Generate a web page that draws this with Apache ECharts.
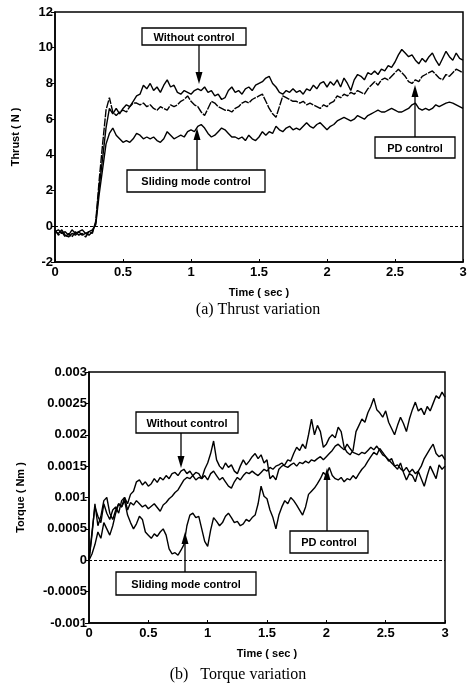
<!DOCTYPE html>
<html>
<head>
<meta charset="utf-8">
<script src="https://cdn.jsdelivr.net/npm/echarts@6/dist/echarts.min.js"></script>
<style>
  html, body { margin: 0; padding: 0; background: #fff; }
  #chart { width: 472px; height: 686px; }
</style>
</head>
<body>
<div id="chart"></div>
<script>
  // sample times (s), 0 .. 3 every 0.025
  const times = [];
  for (let i = 0; i <= 120; i++) times.push(+(i * 0.025).toFixed(3));

  const xTicks = [0, 0.5, 1, 1.5, 2, 2.5, 3];
  const thrustTicks = [-2, 0, 2, 4, 6, 8, 10, 12];
  const torqueTicks = [-0.001, -0.0005, 0, 0.0005, 0.001, 0.0015, 0.002, 0.0025, 0.003];

  // thrust (N)
  const woThrust = [
    -0.3, -0.4, -0.2, -0.5, -0.6, -0.4, -0.5, -0.3, -0.5, -0.4, -0.5, -0.3,
    0.2, 2.2, 3.8, 5.5, 6.6, 6.3, 6.6, 6.3, 6.6, 6.8, 6.7, 7.0,
    7.3, 7.4, 7.9, 7.7, 8.0, 7.6, 7.8, 7.5, 7.9, 8.2, 7.8, 7.9,
    7.5, 7.4, 7.6, 7.5, 7.4, 7.6, 7.7, 7.6, 7.8, 7.5, 7.6, 7.3,
    7.4, 7.1, 7.2, 7.6, 7.8, 7.5, 7.6, 7.4, 7.7, 7.8, 7.6, 7.9,
    8.0, 8.1, 8.3, 8.4, 8.0, 7.8, 7.5, 7.4, 7.6, 7.5, 7.7, 7.5,
    7.6, 7.4, 7.7, 7.6, 7.9, 7.7, 8.0, 8.1, 7.8, 8.1, 7.9, 8.2,
    7.8, 8.3, 8.0, 7.6, 8.2, 8.5, 8.4, 8.2, 8.6, 8.5, 8.7, 8.5,
    8.8, 8.7, 9.0, 8.9, 9.2, 9.6, 9.9, 9.7, 9.5, 9.6, 9.3, 9.1,
    9.4, 9.2, 9.5, 9.7, 9.3, 9.0, 9.4, 9.8, 9.5, 9.3, 9.7, 9.4,
    9.3
  ];
  const pdThrust = [
    -0.2, -0.5, -0.3, -0.6, -0.4, -0.6, -0.3, -0.5, -0.4, -0.6, -0.3, -0.4,
    0.3, 2.6, 4.6, 6.5, 7.2, 6.4, 6.2, 6.4, 6.5, 6.4, 6.7, 6.9,
    6.9, 6.8, 6.9, 6.7, 6.8, 6.6, 6.5, 6.7, 6.6, 6.5, 6.8, 6.7,
    6.8, 7.0, 7.1, 7.3, 7.0, 6.8, 6.7, 6.4, 6.2, 6.6, 7.0, 6.9,
    6.7, 6.6, 6.5, 6.5, 6.4, 6.6, 6.7, 6.9, 7.0, 6.9, 7.1, 7.2,
    7.3, 7.4, 7.0, 6.6, 6.3, 6.1, 6.7, 7.3, 7.2, 7.1, 7.0, 7.0,
    6.9, 7.0, 6.8, 6.9, 6.8, 6.7, 6.6, 6.8, 6.7, 6.9, 7.0, 7.3,
    7.2, 7.4, 7.3, 7.5, 7.4, 7.6, 7.5, 7.4, 7.7, 7.9, 8.1, 7.9,
    8.2, 8.3, 8.2, 8.4, 8.6, 8.8, 8.6, 8.4, 8.1, 8.0, 8.2, 8.1,
    8.4, 8.5, 8.6, 8.7, 8.5, 8.3, 8.2, 8.5, 8.4, 8.6, 8.8, 8.7,
    8.6
  ];
  const smThrust = [
    -0.3, -0.2, -0.4, -0.3, -0.5, -0.2, -0.4, -0.3, -0.2, -0.4, -0.3, -0.2,
    0.1, 1.8, 3.2, 4.6, 5.2, 5.5, 5.1, 4.9, 4.7, 4.8, 4.7, 4.9,
    5.2, 5.1, 4.9, 5.0, 4.9, 5.0, 4.8, 4.7, 4.9, 5.3, 5.1, 4.9,
    5.0, 5.1, 5.0, 5.3, 5.4, 5.3, 5.6, 5.7, 5.5, 5.2, 5.0, 5.1,
    5.3, 5.5, 5.4, 5.2, 5.0, 5.0, 4.9, 5.0, 4.8, 5.1, 4.9, 4.8,
    5.0, 5.3, 5.1, 5.3, 5.2, 5.6, 5.4, 5.3, 5.5, 5.6, 5.4, 5.5,
    5.4, 5.6, 5.8, 5.6, 5.5, 5.7, 5.8, 5.6, 5.4, 5.6, 5.7, 5.9,
    6.0, 6.1, 6.0, 5.9, 6.0, 6.2, 6.1, 6.0, 6.2, 6.3, 6.4, 6.5,
    6.4, 6.4, 6.5, 6.6, 6.5, 6.4, 6.4, 6.5, 6.6, 6.8, 6.9, 6.6,
    6.5, 6.6, 6.5, 6.6, 6.8, 6.7, 6.8, 6.9, 6.95, 6.9, 6.8, 6.7,
    6.6
  ];

  // torque (Nm)
  const woTorque = [
    0, 0.00045, 0.00085, 0.00070, 0.00060, 0.00090, 0.00075, 0.00065, 0.00080, 0.00085, 0.00075, 0.00095,
    0.00100, 0.00090, 0.00105, 0.00110, 0.00125, 0.00128, 0.00120, 0.00125, 0.00118, 0.00122, 0.00130, 0.00124,
    0.00132, 0.00128, 0.00135, 0.00130, 0.00138, 0.00140, 0.00135, 0.00142, 0.00145, 0.00138, 0.00142, 0.00135,
    0.00140, 0.00138, 0.00130, 0.00145, 0.00155, 0.00170, 0.00190, 0.00160, 0.00150, 0.00145, 0.00155, 0.00148,
    0.00152, 0.00142, 0.00138, 0.00150, 0.00160, 0.00152, 0.00158, 0.00165, 0.00170, 0.00162, 0.00168, 0.00155,
    0.00160, 0.00130, 0.00135, 0.00128, 0.00145, 0.00150, 0.00152, 0.00160, 0.00158, 0.00170, 0.00180, 0.00175,
    0.00185, 0.00178, 0.00200, 0.00225, 0.00200, 0.00215, 0.00205, 0.00180, 0.00185, 0.00195, 0.00200, 0.00195,
    0.00212, 0.00205, 0.00180, 0.00172, 0.00168, 0.00175, 0.00205, 0.00215, 0.00225, 0.00220, 0.00235, 0.00245,
    0.00258, 0.00240, 0.00235, 0.00228, 0.00238, 0.00220, 0.00210, 0.00200, 0.00215, 0.00228, 0.00218, 0.00205,
    0.00225, 0.00240, 0.00252, 0.00238, 0.00242, 0.00232, 0.00245, 0.00238, 0.00250, 0.00262, 0.00258, 0.00268,
    0.00260
  ];
  const pdTorque = [
    0, 0.00010, 0.00025, 0.00045, 0.00035, 0.00060, 0.00050, 0.00040, 0.00055, 0.00075, 0.00090, 0.00085,
    0.00100, 0.00080, 0.00092, 0.00088, 0.00095, 0.00090, 0.00085, 0.00088, 0.00082, 0.00086, 0.00090, 0.00084,
    0.00078, 0.00088, 0.00092, 0.00098, 0.00102, 0.00108, 0.00112, 0.00120, 0.00128, 0.00132, 0.00130, 0.00135,
    0.00128, 0.00132, 0.00130, 0.00135, 0.00128, 0.00138, 0.00142, 0.00135, 0.00128, 0.00132, 0.00125, 0.00118,
    0.00115, 0.00125, 0.00132, 0.00128, 0.00135, 0.00140, 0.00138, 0.00142, 0.00138, 0.00135, 0.00140, 0.00145,
    0.00142, 0.00148, 0.00145, 0.00150, 0.00152, 0.00155, 0.00150, 0.00148, 0.00152, 0.00155, 0.00150, 0.00156,
    0.00154, 0.00158, 0.00155, 0.00160, 0.00158, 0.00162, 0.00165, 0.00160, 0.00165, 0.00170, 0.00175, 0.00182,
    0.00185, 0.00180, 0.00176, 0.00185, 0.00178, 0.00172, 0.00170, 0.00168, 0.00172, 0.00170, 0.00175, 0.00180,
    0.00176, 0.00182, 0.00175, 0.00168, 0.00165, 0.00160, 0.00155, 0.00150, 0.00152, 0.00146, 0.00142, 0.00148,
    0.00140, 0.00145, 0.00138, 0.00142, 0.00150, 0.00162, 0.00170, 0.00178, 0.00185, 0.00170, 0.00165, 0.00168,
    0.00160
  ];
  const smTorque = [
    0, 0.00040, 0.00090, 0.00055, 0.00070, 0.00095, 0.00100, 0.00075, 0.00065, 0.00080, 0.00090, 0.00085,
    0.00095, 0.00072, 0.00060, 0.00050, 0.00058, 0.00070, 0.00065, 0.00045, 0.00040, 0.00035, 0.00042, 0.00038,
    0.00045, 0.00050, 0.00040, 0.00018, 0.00010, 0.00012, 0.00008, 0.00016, 0.00025, 0.00055, 0.00072, 0.00075,
    0.00068, 0.00070, 0.00050, 0.00030, 0.00022, 0.00048, 0.00068, 0.00062, 0.00055, 0.00060, 0.00070, 0.00075,
    0.00068, 0.00060, 0.00062, 0.00055, 0.00058, 0.00065, 0.00062, 0.00068, 0.00072, 0.00090, 0.00118, 0.00102,
    0.00098, 0.00080, 0.00068, 0.00050, 0.00072, 0.00085, 0.00095, 0.00090, 0.00100, 0.00095, 0.00088, 0.00080,
    0.00072, 0.00085, 0.00105, 0.00110, 0.00115, 0.00122, 0.00130, 0.00140, 0.00135, 0.00148, 0.00135, 0.00130,
    0.00128, 0.00132, 0.00125, 0.00130, 0.00128, 0.00135, 0.00130, 0.00138, 0.00145, 0.00150, 0.00158, 0.00165,
    0.00172, 0.00168, 0.00178, 0.00172, 0.00165, 0.00158, 0.00162, 0.00150, 0.00145, 0.00155, 0.00140, 0.00128,
    0.00138, 0.00135, 0.00125, 0.00142, 0.00130, 0.00118, 0.00135, 0.00150, 0.00140, 0.00130, 0.00152, 0.00145,
    0.00150
  ];

  const pairs = vals => times.map((t, i) => [t, vals[i]]);

  const tickFont = { color: '#000', fontFamily: 'Liberation Sans', fontWeight: 'bold', fontSize: 13 };
  const nameFont = { color: '#000', fontFamily: 'Liberation Sans', fontWeight: 'bold', fontSize: 11 };

  function xAxisFor (gridIndex) {
    return {
      type: 'value', gridIndex: gridIndex,
      min: xTicks[0], max: xTicks[xTicks.length - 1], interval: 0.5,
      name: 'Time ( sec )', nameLocation: 'middle', nameGap: 25, nameTextStyle: nameFont,
      axisLine: { onZero: false, lineStyle: { color: '#000', width: 1.5 } },
      axisTick: { inside: true, length: 3, lineStyle: { color: '#000' } },
      axisLabel: Object.assign({ margin: 4 }, tickFont),
      splitLine: { show: false }
    };
  }

  function zeroLine () {
    return {
      silent: true, symbol: 'none', label: { show: false },
      lineStyle: { color: '#000', type: [3, 2], width: 1.1 },
      data: [{ yAxis: 0 }]
    };
  }

  function curve (name, data, xi, extra) {
    return Object.assign({
      name: name, type: 'line', xAxisIndex: xi, yAxisIndex: xi,
      data: data, showSymbol: false, symbol: 'none', animation: false,
      lineStyle: { color: '#000', width: 1.4 }
    }, extra || {});
  }

  // annotation helpers (pixel positions)
  function box (x, y, w, h, text) {
    return [
      { type: 'rect', z: 100, shape: { x: x, y: y, width: w, height: h },
        style: { fill: '#fff', stroke: '#000', lineWidth: 1.3 } },
      { type: 'text', z: 101, style: { text: text, x: x + w / 2, y: y + h / 2 + 1,
        align: 'center', verticalAlign: 'middle', textAlign: 'center', textVerticalAlign: 'middle',
        font: 'bold 11px "Liberation Sans"', fill: '#000' } }
    ];
  }
  function arrow (x, y1, y2) {
    // from y1 to tip y2
    const dir = y2 > y1 ? 1 : -1;
    return [
      { type: 'line', z: 100, shape: { x1: x, y1: y1, x2: x, y2: y2 - dir * 8 },
        style: { stroke: '#000', lineWidth: 1.3 } },
      { type: 'polygon', z: 100, shape: { points: [[x - 3.5, y2 - dir * 12], [x + 3.5, y2 - dir * 12], [x, y2]] },
        style: { fill: '#000' } }
    ];
  }
  function caption (x, y, text) {
    return { type: 'text', z: 100, style: { text: text, x: x, y: y,
      align: 'center', verticalAlign: 'middle', textAlign: 'center', textVerticalAlign: 'middle',
      font: '16px "Liberation Serif"', fill: '#000' } };
  }

  const myChart = echarts.init(document.getElementById('chart'), null, { renderer: 'canvas' });
  myChart.setOption({
    backgroundColor: '#fff',
    animation: false,
    grid: [
      { left: 55, top: 12, width: 408, height: 250, show: true, borderColor: '#000', borderWidth: 1.5, backgroundColor: 'transparent' },
      { left: 89, top: 372, width: 356, height: 251, show: true, borderColor: '#000', borderWidth: 1.5, backgroundColor: 'transparent' }
    ],
    xAxis: [xAxisFor(0), xAxisFor(1)],
    yAxis: [
      {
        type: 'value', gridIndex: 0,
        min: thrustTicks[0], max: thrustTicks[thrustTicks.length - 1], interval: 2,
        name: 'Thrust ( N )', nameLocation: 'middle', nameGap: 34, nameTextStyle: nameFont,
        axisLine: { show: true, onZero: false, lineStyle: { color: '#000', width: 1.5 } },
        axisTick: { show: true, length: 4, lineStyle: { color: '#000' } },
        axisLabel: Object.assign({ margin: 2 }, tickFont),
        splitLine: { show: false }
      },
      {
        type: 'value', gridIndex: 1,
        min: torqueTicks[0], max: torqueTicks[torqueTicks.length - 1], interval: 0.0005,
        name: 'Torque ( Nm )', nameLocation: 'middle', nameGap: 63, nameTextStyle: nameFont,
        axisLine: { show: true, onZero: false, lineStyle: { color: '#000', width: 1.5 } },
        axisTick: { show: true, length: 4, lineStyle: { color: '#000' } },
        axisLabel: Object.assign({ margin: 2 }, tickFont),
        splitLine: { show: false }
      }
    ],
    series: [
      curve('Sliding mode control', pairs(smThrust), 0, { markLine: zeroLine() }),
      curve('PD control', pairs(pdThrust), 0, { lineStyle: { color: '#000', width: 1.4, type: [8, 1.2] } }),
      curve('Without control', pairs(woThrust), 0),
      curve('Sliding mode control', pairs(smTorque), 1, { markLine: zeroLine() }),
      curve('PD control', pairs(pdTorque), 1),
      curve('Without control', pairs(woTorque), 1)
    ],
    graphic: [].concat(
      box(142, 28, 104, 17, 'Without control'), arrow(199, 45, 84),
      box(375, 137, 80, 21, 'PD control'), arrow(415, 137, 85),
      box(127, 170, 138, 22, 'Sliding mode control'), arrow(197, 170, 128),
      caption(258, 310, '(a) Thrust variation'),
      box(136, 412, 102, 21, 'Without control'), arrow(181, 433, 468),
      box(290, 531, 78, 22, 'PD control'), arrow(327, 531, 468),
      box(116, 572, 140, 23, 'Sliding mode control'), arrow(185, 572, 532),
      caption(238, 675, '(b)   Torque variation')
    )
  });
</script>
</body>
</html>
